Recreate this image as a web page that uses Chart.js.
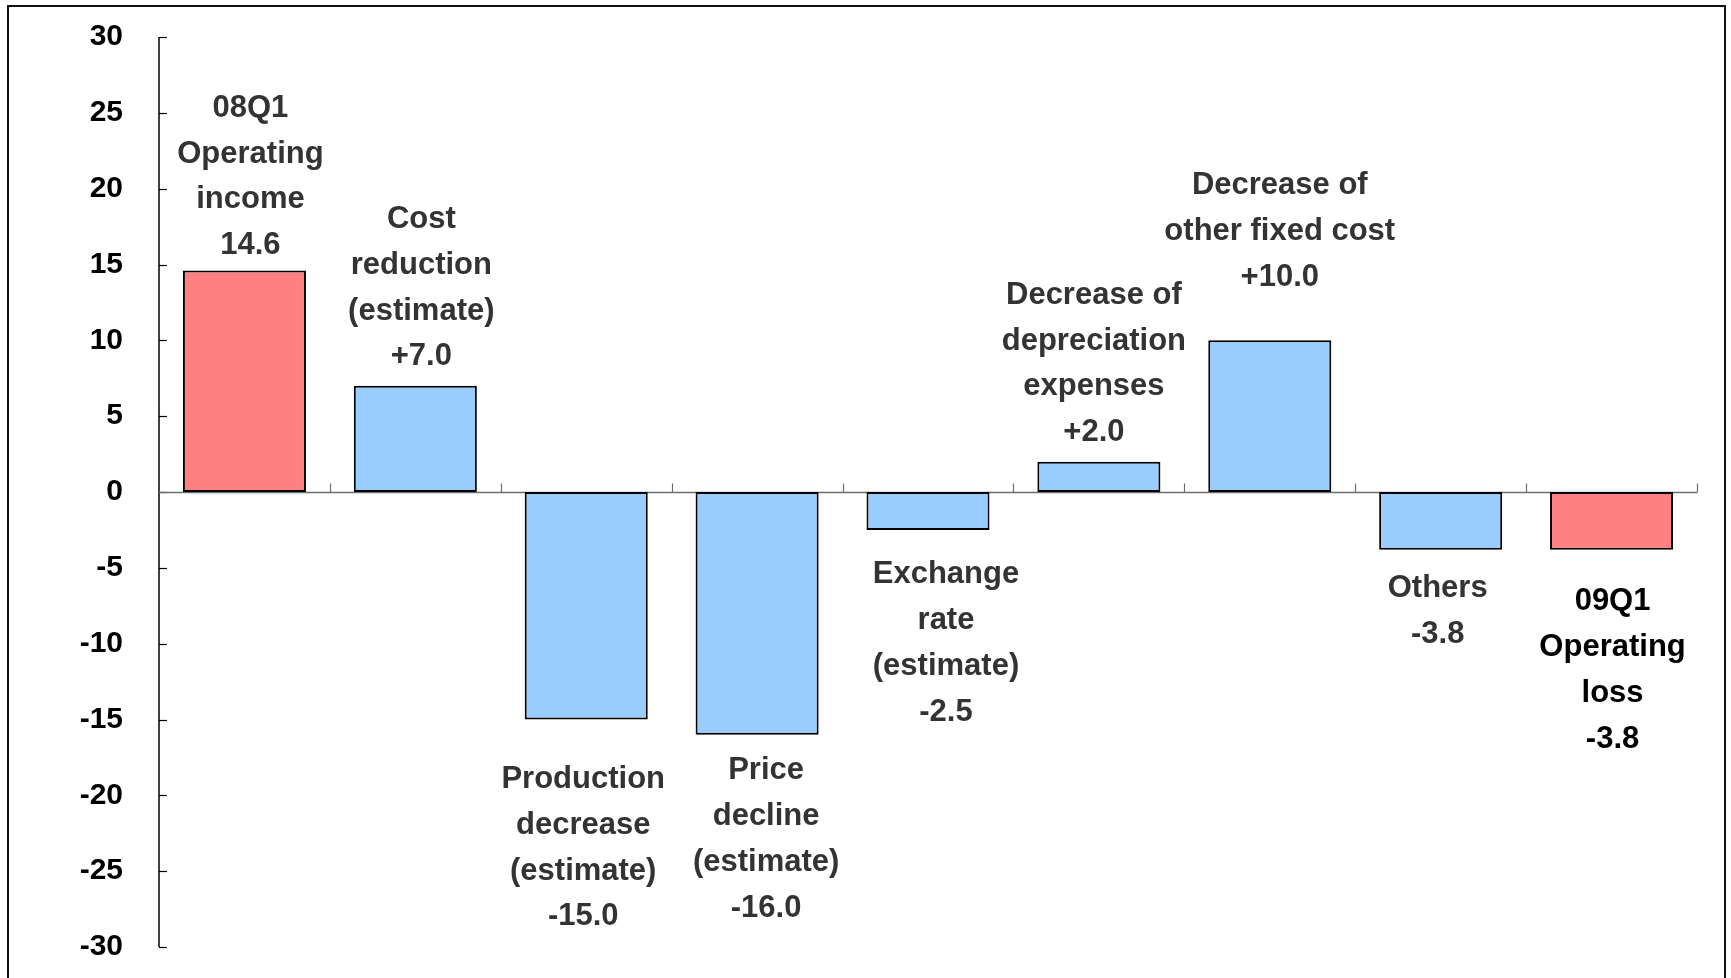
<!DOCTYPE html>
<html>
<head>
<meta charset="utf-8">
<script src="https://cdn.jsdelivr.net/npm/chart.js@4.4.1/dist/chart.umd.min.js"></script>
<style>
  html, body { margin: 0; padding: 0; background: #ffffff; overflow: hidden; }
  #wrap { position: relative; width: 1731px; height: 978px; }
  #frame { position: absolute; left: 7px; top: 5px; width: 1719px; height: 1000px; border: 2px solid #111; box-sizing: border-box; pointer-events: none; }
  canvas { position: absolute; left: 0; top: 0; }
</style>
</head>
<body>
<div id="wrap">
  <canvas id="c" width="1731" height="978"></canvas>
  <div id="frame"></div>
</div>
<script>
// ---- data ----
const categories = [
  ["08Q1", "Operating", "income"],
  ["Cost", "reduction", "(estimate)"],
  ["Production", "decrease", "(estimate)"],
  ["Price", "decline", "(estimate)"],
  ["Exchange", "rate", "(estimate)"],
  ["Decrease of", "depreciation", "expenses"],
  ["Decrease of", "other fixed cost"],
  ["Others"],
  ["09Q1", "Operating", "loss"]
];
const values = [14.6, 7.0, -15.0, -16.0, -2.5, 2.0, 10.0, -3.8, -3.8];
const barKinds = ["total", "change", "change", "change", "change", "change", "change", "change", "total"];
const yTicks = [30, 25, 20, 15, 10, 5, 0, -5, -10, -15, -20, -25, -30];

// ---- styling / label placement (pixels) ----
const kindColors = { total: "#FF8080", change: "#99CCFF" };
const labelColors = ["#333333", "#333333", "#333333", "#333333", "#333333", "#333333", "#333333", "#333333", "#000000"];
const labelDx  = [6, 6, -3, 9, 18, -5, 10, -3, 1];
const labelGap = [25, 29, 60, 36, 45, 29, 63, 39, 52];
const LINE_H = 45.8;
const LABEL_FONT = "bold 31px 'Liberation Sans', Arial, sans-serif";
const AREA = { left: 159, top: 37, right: 1697, bottom: 947 };

function valueText(v, kind) {
  const s = Math.abs(v).toFixed(1);
  if (v < 0) return "-" + s;
  return (kind === "change" ? "+" : "") + s;
}

const axisPlugin = {
  id: "axisPlugin",
  beforeDatasetsDraw(chart) {
    const { ctx, chartArea, scales } = chart;
    const x = scales.x, y = scales.y;
    ctx.save();
    ctx.strokeStyle = "#000000";
    ctx.lineWidth = 1.5;
    ctx.beginPath();
    ctx.moveTo(chartArea.left, y.getPixelForValue(yTicks[0]));
    ctx.lineTo(chartArea.left, y.getPixelForValue(yTicks[yTicks.length - 1]));
    ctx.stroke();
    ctx.lineWidth = 1.2;
    yTicks.forEach(v => {
      const py = Math.round(y.getPixelForValue(v)) + 0.5;
      ctx.beginPath();
      ctx.moveTo(chartArea.left, py);
      ctx.lineTo(chartArea.left + 8, py);
      ctx.stroke();
    });
    const y0 = Math.round(y.getPixelForValue(0)) + 0.5;
    ctx.strokeStyle = "#6e6e6e";
    ctx.lineWidth = 1.5;
    ctx.beginPath();
    ctx.moveTo(chartArea.left, y0);
    ctx.lineTo(chartArea.right, y0);
    ctx.stroke();
    const step = x.getPixelForValue(1) - x.getPixelForValue(0);
    ctx.lineWidth = 1.2;
    for (let i = 0; i < values.length; i++) {
      const bx = Math.round(x.getPixelForValue(i) + step / 2) + 0.5;
      ctx.beginPath();
      ctx.moveTo(bx, y0);
      ctx.lineTo(bx, y0 - 9);
      ctx.stroke();
    }
    ctx.restore();
  },
  afterDatasetsDraw(chart) {
    const { ctx } = chart;
    const meta = chart.getDatasetMeta(0);
    ctx.save();
    ctx.font = LABEL_FONT;
    ctx.textAlign = "center";
    ctx.textBaseline = "middle";
    meta.data.forEach((el, i) => {
      const lines = categories[i].concat([valueText(values[i], barKinds[i])]);
      const cx = el.x + labelDx[i];
      ctx.fillStyle = labelColors[i];
      if (values[i] >= 0) {
        const lastY = el.y - labelGap[i];
        lines.forEach((t, k) => ctx.fillText(t, cx, lastY - (lines.length - 1 - k) * LINE_H));
      } else {
        const firstY = el.y + labelGap[i];
        lines.forEach((t, k) => ctx.fillText(t, cx, firstY + k * LINE_H));
      }
    });
    ctx.restore();
  }
};

new Chart(document.getElementById("c"), {
  type: "bar",
  data: {
    labels: categories.map(c => c.join(" ")),
    datasets: [{
      data: values,
      backgroundColor: barKinds.map(k => kindColors[k]),
      borderColor: "#000000",
      borderWidth: 2,
      borderSkipped: false,
      barPercentage: 0.72,
      categoryPercentage: 1.0
    }]
  },
  options: {
    responsive: false,
    devicePixelRatio: 1,
    animation: false,
    layout: { padding: 0 },
    plugins: { legend: { display: false }, tooltip: { enabled: false } },
    scales: {
      x: {
        offset: true,
        grid: { display: false, drawTicks: false },
        border: { display: false },
        ticks: { display: false },
        afterFit(scale) { scale.height = 0; }
      },
      y: {
        min: -30,
        max: 30,
        afterFit(scale) { scale.width = AREA.left; },
        afterBuildTicks(scale) { scale.ticks = yTicks.map(v => ({ value: v })); },
        grid: { display: false, drawTicks: false },
        border: { display: false },
        ticks: {
          padding: 36,
          color: "#000000",
          font: { family: "'Liberation Sans', Arial, sans-serif", size: 30, weight: "bold" },
          callback: v => String(v)
        }
      }
    }
  },
  plugins: [{
    id: "fixArea",
    afterLayout(chart) {
      // pin plot area to reference frame
      const ca = chart.chartArea;
      ca.left = AREA.left; ca.right = AREA.right; ca.top = AREA.top; ca.bottom = AREA.bottom;
      ca.width = AREA.right - AREA.left; ca.height = AREA.bottom - AREA.top;
      const x = chart.scales.x, y = chart.scales.y;
      x.left = AREA.left; x.right = AREA.right; x.width = ca.width;
      y.top = AREA.top; y.bottom = AREA.bottom; y.height = ca.height;
      y.left = 0; y.right = AREA.left; y.width = AREA.left;
      x.configure(); y.configure();
    }
  }, axisPlugin]
});
</script>
</body>
</html>
